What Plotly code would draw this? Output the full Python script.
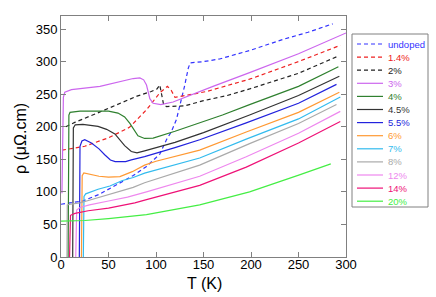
import plotly.graph_objects as go

# ---------------- data ----------------
names = ["undoped", "1.4%", "2%", "3%", "4%", "4.5%", "5.5%", "6%", "7%", "8%", "12%", "14%", "20%"]

T_undoped = [0, 10, 23, 40, 55, 76, 90, 104, 111, 116, 121.5, 125, 130, 134, 136, 150, 167, 198.5, 233.5, 260, 286]
rho_undoped = [81, 83, 86, 96, 108, 125, 139, 158, 180, 192, 211, 231, 262, 290, 298, 300, 304, 317, 334, 345, 358]

T_1p4 = [1, 10, 25, 50, 72, 90, 104, 112, 116, 120, 128, 153, 198.5, 250, 294]
rho_1p4 = [164, 166, 170, 183, 199, 226, 252, 262, 256, 245, 247, 254, 273, 300, 325]

T_2 = [5, 15, 40, 60, 80, 95, 101, 104, 106, 108, 111, 130, 150, 175, 198.5, 250, 291]
rho_2 = [200, 207, 222, 235, 247, 254, 258, 264, 250, 234, 231, 232, 240, 248, 258, 282, 308]

T_3 = [1, 1.5, 2.5, 4, 11, 41, 60, 76, 83, 87, 90, 93.5, 97, 105, 118, 130, 160, 198.5, 250, 300]
rho_3 = [98, 180, 245, 253, 257, 262, 268, 274, 275, 272, 264, 243, 236, 234, 238, 245, 262, 283, 312, 344]

T_4 = [7.5, 7.8, 8.3, 9.5, 20, 35, 50, 60, 67, 72.5, 77, 81, 88, 97, 120, 146, 170, 198.5, 250, 292]
rho_4 = [0, 110, 218, 222, 224, 224, 224, 221, 215, 205, 194, 186, 182, 182.6, 193, 206, 218, 234, 262, 292]

T_4p5 = [12.3, 12.6, 13, 15, 23, 39, 48, 56.7, 67, 74, 80, 88, 100, 120, 150, 198.5, 250, 293]
rho_4p5 = [0, 100, 198, 203, 203.5, 200.5, 196, 189, 171, 162, 160, 163, 168, 176, 191, 218, 248, 277.5]

T_5p5 = [19.3, 19.6, 20, 22, 25, 32, 40, 46, 52, 57, 68, 74, 88, 120, 146, 195, 250, 290]
rho_5p5 = [0, 100, 170, 178, 180, 175, 166, 157, 149, 146.5, 146.5, 149, 154, 168, 180, 206, 236, 265]

T_6 = [21.5, 21.9, 22.3, 24, 30, 40, 50, 62, 75, 88, 100, 146, 195, 250, 293]
rho_6 = [0, 60, 125, 129, 127, 124, 122.5, 123.5, 131, 141, 147, 164, 192, 222, 253]

T_7 = [23.5, 23.8, 24.2, 26, 39, 51.5, 64, 76, 88, 146, 195, 250, 294]
rho_7 = [0, 50, 93, 97, 104, 109, 117, 122, 128.7, 152, 181, 212, 245.6]

T_8 = [6.3, 6.6, 10, 20, 27, 50, 76, 88, 146, 198.5, 250, 290]
rho_8 = [0, 80, 81, 83, 86, 96, 107, 114, 141, 174, 205, 234]

T_12 = [15.5, 16, 16.5, 20, 30, 50, 70, 90, 146, 195, 250, 294]
rho_12 = [0, 40, 72, 76, 80, 86, 92, 100, 124, 154, 190, 223.6]

T_14 = [9, 9.5, 10, 14.7, 28.7, 50, 77.7, 90, 146, 195, 250, 294]
rho_14 = [0, 40, 64, 67, 71, 75, 83, 88, 110, 138, 175, 208]

T_20 = [0, 25, 50, 75, 90, 146, 198.5, 251, 284]
rho_20 = [55, 56, 59, 63, 65, 80, 100, 126, 143]

x_ticks = [0, 50, 100, 150, 200, 250, 300]
y_ticks = [0, 50, 100, 150, 200, 250, 300, 350]

# ---------------- style ----------------
colors = ["#3333ff", "#ee2222", "#222222", "#cc66ee", "#2f802f", "#333333", "#2222dd",
          "#ff9933", "#33bbee", "#aaaaaa", "#ee88ee", "#ee1177", "#44ee44"]
dashes = ["4px,3px", "4px,3px", "4px,3px"] + ["solid"] * 10

series = [(T_undoped, rho_undoped), (T_1p4, rho_1p4), (T_2, rho_2), (T_3, rho_3),
          (T_4, rho_4), (T_4p5, rho_4p5), (T_5p5, rho_5p5), (T_6, rho_6),
          (T_7, rho_7), (T_8, rho_8), (T_12, rho_12), (T_14, rho_14), (T_20, rho_20)]

W, H = 436, 297
L, R, TOP, B = 61, 90, 16, 40
PW, PH = W - L - R, H - TOP - B

def px(x):
    return (x - L) / PW

def py(y):
    return (H - B - y) / PH

fig = go.Figure()
for (t, r), c, d, n in zip(series, colors, dashes, names):
    fig.add_trace(go.Scatter(x=t, y=r, mode="lines", name=n, showlegend=False,
                             line=dict(color=c, width=1.2, dash=d)))

font = "Arial, Liberation Sans, sans-serif"
axis_common = dict(showline=True, linecolor="#808080", linewidth=1, mirror="ticks",
                   ticks="inside", ticklen=5, tickcolor="#808080", showgrid=False,
                   zeroline=False, tickfont=dict(family=font, size=13, color="black"))

fig.update_layout(
    width=W, height=H,
    margin=dict(l=L, r=R, t=TOP, b=B),
    paper_bgcolor="white", plot_bgcolor="white",
    xaxis=dict(range=[0, 300], tickvals=x_ticks, ticklabelstandoff=-5, **axis_common),
    yaxis=dict(range=[0, 370], tickvals=y_ticks, **axis_common),
    showlegend=False,
)

# axis titles
fig.add_annotation(text="T (K)", x=px(204), y=py(283), xref="paper", yref="paper",
                   showarrow=False, xanchor="center", yanchor="middle",
                   font=dict(family=font, size=16, color="black"))
fig.add_annotation(text="ρ (μΩ.cm)", x=px(20), y=py(139), xref="paper", yref="paper",
                   showarrow=False, xanchor="center", yanchor="middle", textangle=-90,
                   font=dict(family=font, size=16, color="black"))

# legend box drawn manually (compact spacing)
fig.add_shape(type="rect", xref="paper", yref="paper",
              x0=px(352), x1=px(428), y0=py(207), y1=py(34),
              line=dict(color="#808080", width=1), fillcolor="white", layer="below")
for i, (n, c, d) in enumerate(zip(names, colors, dashes)):
    yy = 44 + 13.1 * i
    fig.add_shape(type="line", xref="paper", yref="paper",
                  x0=px(357), x1=px(383), y0=py(yy), y1=py(yy),
                  line=dict(color=c, width=1.2, dash=d))
    fig.add_annotation(text=n, x=px(386), y=py(yy), xref="paper", yref="paper",
                       showarrow=False, xanchor="left", yanchor="middle",
                       font=dict(family=font, size=9.5, color=c))

fig.write_html("out.html", config={"displayModeBar": False},
               post_script="document.body.style.margin='0';")
